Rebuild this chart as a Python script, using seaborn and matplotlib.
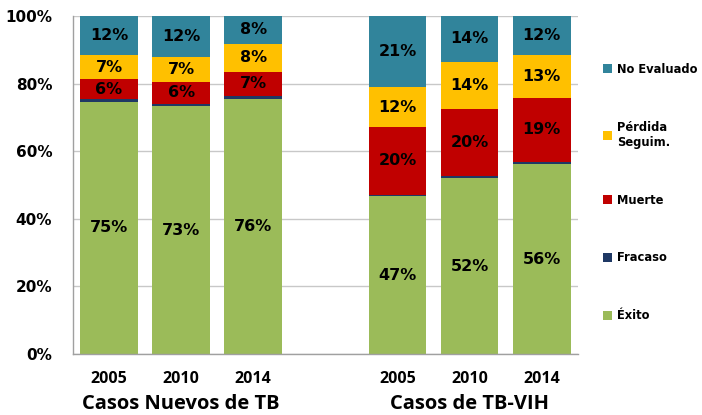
import numpy as np
import pandas as pd
import seaborn as sns
import matplotlib.pyplot as plt
from matplotlib.patches import Patch

# datos (% de casos)
anios = ['2005', '2010', '2014']
grupos = ['Casos Nuevos de TB', 'Casos de TB-VIH']
exito = [74.6, 73.4, 75.6, 46.7, 52.0, 56.2]
fracaso = [0.8, 0.7, 0.8, 0.4, 0.8, 0.7]
muerte = [6.0, 6.4, 7.2, 20.2, 19.6, 18.9]
perdida = [7.0, 7.4, 8.3, 11.6, 14.1, 12.6]
no_eval = [11.6, 12.1, 8.1, 21.1, 13.5, 11.6]

series = ['Éxito', 'Fracaso', 'Muerte', 'Pérdida\nSeguim.', 'No Evaluado']
colores = ['#9BBB59', '#1F3864', '#C00000', '#FFC000', '#31849B']

claves = ['TB ' + a for a in anios] + ['VIH ' + a for a in anios]
orden = claves[:3] + [''] + claves[3:]

df = pd.DataFrame({'caso': claves, 'Éxito': exito, 'Fracaso': fracaso,
                   'Muerte': muerte, 'Pérdida\nSeguim.': perdida,
                   'No Evaluado': no_eval})
acum = df[series].cumsum(axis=1)

sns.set_style('white')
plt.rcParams['font.family'] = ['DejaVu Sans']
plt.rcParams['text.color'] = 'black'
plt.rcParams['xtick.color'] = 'black'
plt.rcParams['ytick.color'] = 'black'

fig = plt.figure(figsize=(7.02, 4.15), dpi=100)
ax = fig.add_axes([0.104, 0.147, 0.719, 0.814])

# barras apiladas: de arriba hacia abajo
for s, c in reversed(list(zip(series, colores))):
    sns.barplot(x=df['caso'], y=acum[s], order=orden, color=c,
                saturation=1, width=0.8, ax=ax, linewidth=0)

# etiquetas de datos
for i, k in enumerate(claves):
    xpos = orden.index(k)
    base = 0
    for s in series:
        v = df.loc[i, s]
        if s != 'Fracaso':
            ax.text(xpos, base + v / 2, f'{v:.0f}%', ha='center', va='center',
                    fontsize=11.5, fontweight='bold', color='black')
        base += v

ax.set_ylim(0, 100)
ax.set_xlim(-0.5, 6.5)
ax.set_yticks([0, 20, 40, 60, 80, 100])
ax.set_yticklabels([f'{t}%' for t in [0, 20, 40, 60, 80, 100]],
                   fontsize=11, fontweight='bold')
ax.yaxis.grid(True, color='#C8C8C8', linewidth=1)
ax.set_axisbelow(True)
ax.tick_params(axis='y', length=5, color='#A0A0A0', labelcolor='black', pad=10)

ax.set_xticks(range(7))
ax.set_xticklabels(anios + [''] + anios,
                   fontsize=11.5, fontweight='bold', family='Open Sans')
ax.tick_params(axis='x', length=0, pad=12, labelcolor='black')
ax.set_xticks(np.arange(-0.5, 7, 1), minor=True)
ax.tick_params(axis='x', which='minor', length=5, color='#A0A0A0')
ax.set_xlabel('')
ax.set_ylabel('')

for side in ['top', 'right']:
    ax.spines[side].set_visible(False)
for side in ['left', 'bottom']:
    ax.spines[side].set_color('#A0A0A0')
    ax.spines[side].set_linewidth(1)

# nombres de grupo
tr = ax.get_xaxis_transform()
ax.text(1, -0.148, grupos[0], transform=tr, ha='center', va='center',
        fontsize=14.5, fontweight='bold', family='Open Sans', color='black')
ax.text(5, -0.148, grupos[1], transform=tr, ha='center', va='center',
        fontsize=14.5, fontweight='bold', family='Open Sans', color='black')

# leyenda
handles = [Patch(facecolor=c, edgecolor='none') for c in colores]
leg = ax.legend(handles[::-1], series[::-1], loc='center left',
                bbox_to_anchor=(1.03, 0.478), frameon=False,
                prop={'size': 8.3, 'weight': 'bold'}, handlelength=0.8,
                handleheight=0.8, handletextpad=0.4, labelspacing=3.9)
for t in leg.get_texts():
    t.set_color('black')

fig.savefig('out.png', dpi=100)
